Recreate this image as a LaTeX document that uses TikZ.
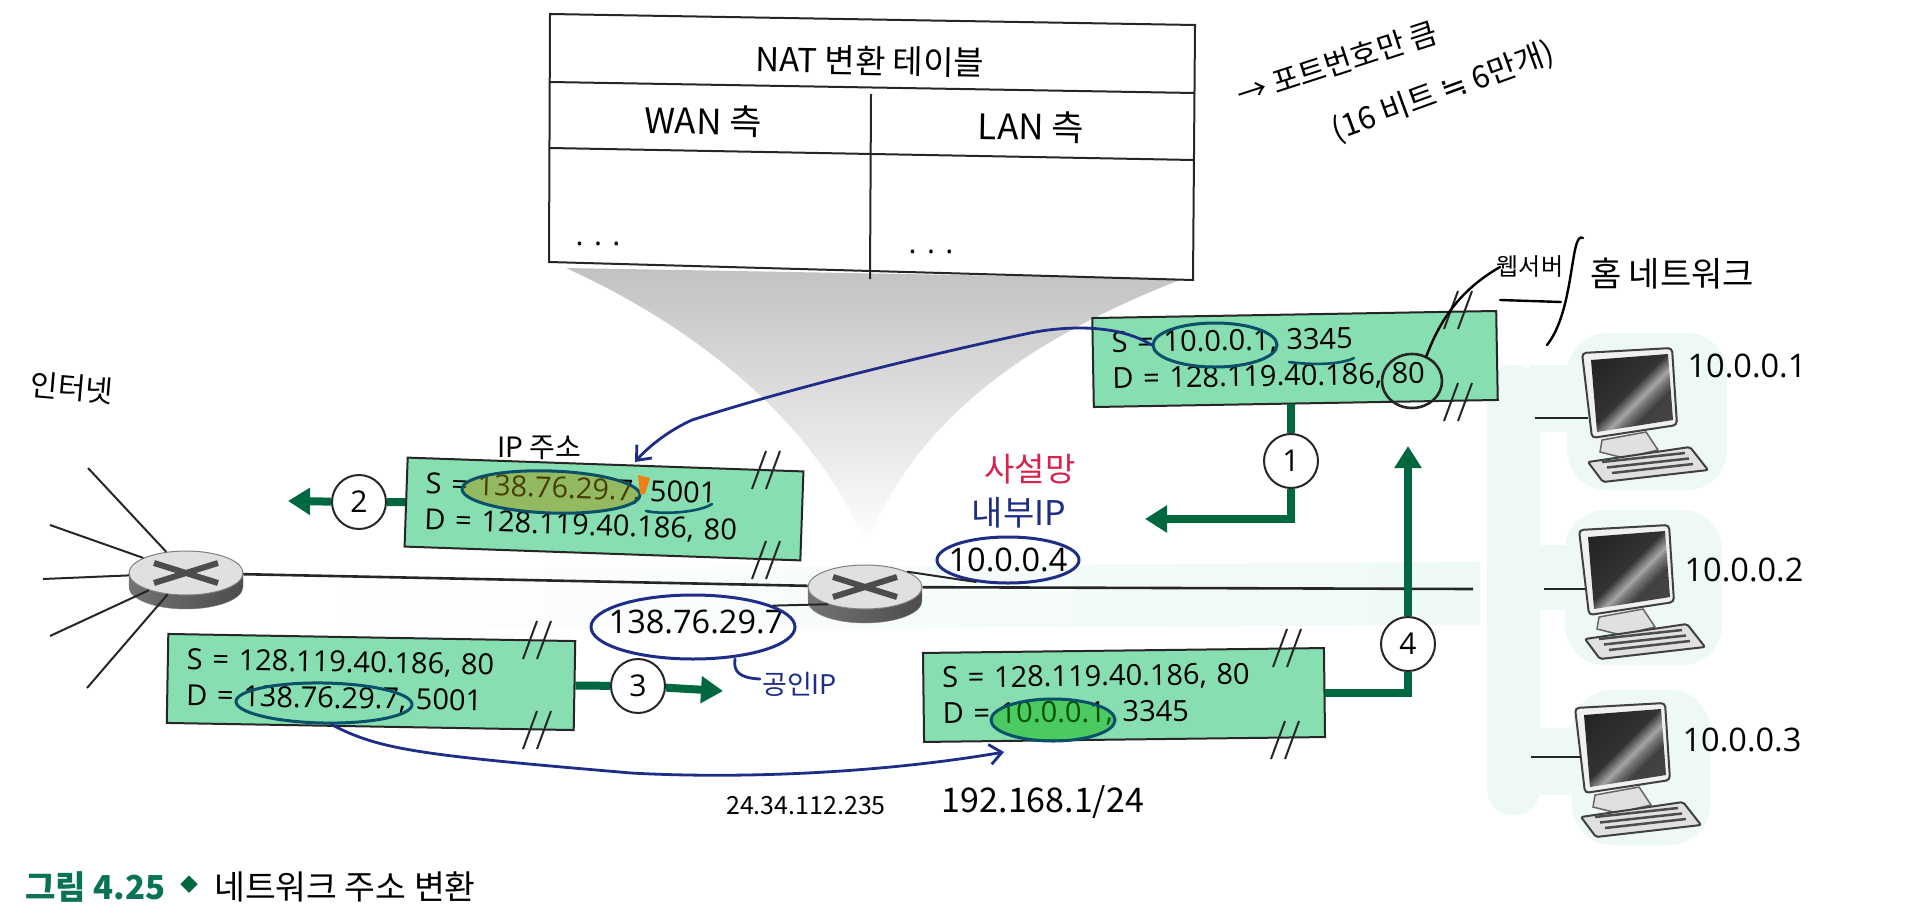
\documentclass[tikz,border=0pt]{standalone}
\usepackage{fontspec}
\setmainfont{Open Sans}
\newfontfamily\kr{Noto Sans CJK KR}
\newfontfamily\symfont{DejaVu Sans}
\usetikzlibrary{arrows.meta,shapes.geometric}
\definecolor{pktgreen}{RGB}{135,222,176}
\definecolor{arrowgreen}{RGB}{0,104,62}
\definecolor{penblue}{RGB}{30,45,135}
\definecolor{penteal}{RGB}{10,80,105}
\definecolor{penred}{RGB}{215,35,75}
\definecolor{capgreen}{RGB}{10,115,85}
\definecolor{paleband}{RGB}{238,249,245}
\newcommand{\fs}[1]{\fontsize{#1}{#1}\selectfont}
\pgfdeclarehorizontalshading{glare}{100bp}{color(0bp)=(black!90); color(48bp)=(black!80); color(56bp)=(black!35); color(60bp)=(black!55); color(66bp)=(black!75); color(100bp)=(black!70)}
\tikzset{
  pktbox/.style={draw=black!85,line width=2pt,fill=pktgreen,inner xsep=19pt,inner ysep=0pt,
    align=left,minimum height=89pt,text width=#1,font=\fontsize{29}{36}\selectfont},
  numcirc/.style={circle,draw=black!85,line width=2pt,fill=white,inner sep=0pt,minimum size=54pt,font=\fs{30}},
  greenline/.style={draw=arrowgreen,line width=8pt},
  greentip/.style={greenline,-{Triangle[length=22pt,width=26pt]}},
  wire/.style={black!85,line width=2.6pt},
  thinwire/.style={black!85,line width=2pt},
  tablehead/.style={font=\kr\fs{#1}},
  addr/.style={inner sep=0pt,font=\fs{32.5}},
  oval/.style={ellipse,draw=penteal,line width=3pt,inner sep=0pt},
  blueoval/.style={oval,draw=penblue},
  bluepen/.style={penblue,line width=2.8pt,line cap=round},
  blackpen/.style={black,line width=2.4pt,line cap=round},
  hand/.style={inner sep=0pt,font=\kr\fs{#1}},
  routertop/.style={ellipse,draw=black!50,line width=1pt,fill=black!12,inner sep=0pt,minimum width=114pt,minimum height=44pt},
  pics/computer/.style={code={
    \filldraw[draw=black!60,fill=black!12,line width=1.5pt] (16,100) -- (18,88) -- (62,80) -- (74,98) -- (40,106) -- cycle;
    \filldraw[draw=black!75,fill=black!6,line width=2pt,rounded corners=4pt] (-2,1) -- (88,-4) -- (93,73) -- (8,86) -- cycle;
    \shade[shading=glare,shading angle=-45] (7,8) -- (84,2) -- (89,68) -- (13,80) -- cycle;
    \filldraw[draw=black!75,fill=black!12,line width=2pt,rounded corners=2pt] (4,110) -- (106,95) -- (124,118) -- (19,130) -- cycle;
    \foreach \k in {0,1,2}
      \draw[black!70,line width=2.5pt] (18+5*\k,110+5.5*\k) -- (101+4*\k,101+5.5*\k);
    \coordinate (-port) at (4,66);
  }}
}
\newcommand{\router}[3]{
  \shade[left color=black!55,middle color=black!8,right color=black!70,draw=black!50]
    (#2-57,#3) -- (#2-57,#3+14) arc (180:0:57 and 22) -- (#2+57,#3) -- cycle;
  \node[routertop] (#1) at (#2,#3) {};
  \draw[black!70,line width=6pt] (#2-32,#3+10) -- (#2+32,#3-10);
  \draw[black!70,line width=6pt] (#2-32,#3-10) -- (#2+32,#3+10);
}
\begin{document}
\begin{tikzpicture}[x=1pt,y=-1pt]
\useasboundingbox (0,0) rectangle (1921,910);
\fill[white] (0,0) rectangle (1921,910);

\shade[left color=white,right color=paleband] (240,570) -- (1480,562) -- (1480,625) -- (240,630) -- cycle;
\fill[paleband,rounded corners=25pt] (1487,365) rectangle (1540,815);
\fill[paleband,rounded corners=40pt] (1567,333) rectangle (1727,490);
\fill[paleband,rounded corners=40pt] (1565,510) rectangle (1722,665);
\fill[paleband,rounded corners=40pt] (1572,690) rectangle (1710,845);
\fill[paleband] (1530,365) rectangle (1575,432);
\fill[paleband] (1530,545) rectangle (1575,610);
\fill[paleband] (1530,728) rectangle (1580,795);

\shade[top color=black!24,bottom color=white]
  (566,268) .. controls (680,320) and (810,410) .. (866,545)
  .. controls (920,410) and (1040,335) .. (1182,279) -- cycle;

\filldraw[fill=white,draw=black!85,line width=2pt] (550,14) -- (1195,25) -- (1193,280) -- (549,262) -- cycle;
\draw[thinwire] (550,82) -- (1195,93);
\draw[thinwire] (550,148) -- (1194,160);
\draw[thinwire] (871,94) -- (870,279);
\node[tablehead=33,rotate=-1] (natTitle) at (870,61) {NAT 변환 테이블};
\node[tablehead=35,rotate=-1] (wanSide) at (703,121) {WAN 측};
\node[tablehead=35,rotate=-1] (lanSide) at (1031,127) {LAN 측};
\node[font=\fs{30}] (wanDots) at (598,244) {. . .};
\node[font=\fs{30}] (lanDots) at (931,252) {. . .};

\router{routerL}{186}{573}
\router{routerR}{865}{587}

\coordinate (inetA) at (88,468);
\coordinate (inetB) at (50,525);
\coordinate (inetC) at (43,579);
\coordinate (inetD) at (50,636);
\coordinate (inetE) at (87,688);
\foreach \n in {inetA,inetB,inetC,inetD,inetE}
  \draw[thinwire] (\n) -- (routerL);
\coordinate (lanEnd) at (1473,589);
\draw[wire] (routerL) -- (routerR);
\draw[wire] (routerR) -- (lanEnd);

\node[pktbox=366pt,rotate=1] (pktA) at (1295,359) {S = 10.0.0.1, 3345\\D = 128.119.40.186, 80};
\node[pktbox=358pt,rotate=-2] (pktB) at (604,509) {S = 138.76.29.7, 5001\\D = 128.119.40.186, 80};
\node[pktbox=369pt,rotate=-1] (pktC) at (371,682) {S = 128.119.40.186, 80\\D = 138.76.29.7, 5001};
\node[pktbox=363pt,rotate=0.7] (pktD) at (1124,695) {S = 128.119.40.186, 80\\D = 10.0.0.1, 3345};

\foreach \sx/\sy in {1458/310,1458/402,766/470,766/560,537/640,537/730,1287/648,1285/740}{
  \draw[thinwire] (\sx-14,\sy+19) -- (\sx,\sy-19);
  \draw[thinwire] (\sx,\sy+19) -- (\sx+14,\sy-19);
}

\node[numcirc] (numA) at (1291,461) {1};
\node[numcirc] (numB) at (359,502) {2};
\node[numcirc] (numC) at (638,686) {3};
\node[numcirc] (numD) at (1408,644) {4};
\coordinate (tipA) at (1145,519);
\coordinate (tipB) at (288,501);
\coordinate (tipC) at (723,691);
\coordinate (tipD) at (1408,446);
\draw[greenline] (pktA.south -| numA) -- (numA);
\draw[greentip] (numA) |- (tipA);
\draw[greenline] (pktB.west) -- (numB);
\draw[greentip] (numB) -- (tipB);
\draw[greenline] (pktC.east) -- (numC);
\draw[greentip] (numC) -- (tipC);
\draw[greenline] (pktD.east) -| (numD);
\draw[greentip] (numD) -- (tipD);

\pic (pcA) at (1584,352) {computer};
\pic (pcB) at (1581,529) {computer};
\pic (pcC) at (1577,707) {computer};
\coordinate (lanA) at (1535,418);
\coordinate (lanB) at (1544,589);
\coordinate (lanC) at (1531,757);
\draw[thinwire] (lanA) -- (lanA -| pcA-port);
\draw[thinwire] (lanB) -- (lanB -| pcB-port);
\draw[thinwire] (lanC) -- (lanC -| pcC-port);
\node[addr] (addrA) at (1747,366) {10.0.0.1};
\node[addr] (addrB) at (1744,570) {10.0.0.2};
\node[addr] (addrC) at (1742,740) {10.0.0.3};

\node[addr] (pubAddr) at (696,622) {138.76.29.7};
\node[addr] (privAddr) at (1008,560) {10.0.0.4};

\node[blueoval,minimum width=204pt,minimum height=64pt] (ovalPub) at (693,627) {};
\node[blueoval,minimum width=142pt,minimum height=46pt] (ovalPriv) at (1008,560) {};
\draw[thinwire] (routerR.205) -- (ovalPub.15);
\draw[thinwire] (routerR.20) -- (ovalPriv.215);
\node[oval,minimum width=124pt,minimum height=44pt] (ovalA) at (1215,345) {};
\node[oval,draw=black!85,minimum width=60pt,minimum height=54pt,line width=2.6pt] (ovalPort) at (1412,381) {};
\node[oval,fill=olive!80!orange,fill opacity=.45,minimum width=178pt,minimum height=42pt,rotate=-2] (ovalB) at (551,492) {};
\node[oval,minimum width=176pt,minimum height=40pt,rotate=-1] (ovalC) at (324,703) {};
\node[oval,fill=green!70!black,fill opacity=.45,minimum width=124pt,minimum height=42pt] (ovalD) at (1053,720) {};
\fill[orange!70!brown] (638,475) -- (650,478) -- (645,494) -- (640,494) -- cycle;

\draw[penteal,line width=2.6pt,line cap=round] (1289,362) .. controls (1310,365) and (1340,365) .. (1354,358);
\draw[penteal,line width=2.6pt,line cap=round] (646,511) .. controls (665,515) and (700,512) .. (712,504);

\coordinate (tipBlueA) at (635,462);
\coordinate (tipBlueB) at (1004,752);
\draw[bluepen,-{Straight Barb[length=12pt,width=20pt]}] (ovalA.west) .. controls (1120,325) and (1070,325) .. (1030,333)
  .. controls (950,350) and (800,385) .. (692,420)
  .. controls (670,430) and (650,445) .. (tipBlueA);
\draw[bluepen,-{Straight Barb[length=12pt,width=20pt]}] (ovalC.-70) .. controls (380,750) and (420,755) .. (631,773)
  .. controls (760,780) and (900,770) .. (tipBlueB);

\draw[bluepen] (735,659) .. controls (733,672) and (740,678) .. (760,679);
\coordinate (strokeTop) at (1500,267);
\draw[blackpen] (ovalPort.60) .. controls (1440,320) and (1460,290) .. (strokeTop);
\draw[blackpen] (1583,238) .. controls (1570,230) and (1575,310) .. (1547,345);
\draw[blackpen] (1500,300) -- (1561,302);

\node[hand=30,rotate=18] (noteA) at (1337,63) {→ 포트번호만 큼};
\node[hand=31,rotate=20] (noteB) at (1443,92) {(16 비트 {\symfont ≒} 6만개)};
\node[hand=24] (noteWeb) at (1530,267) {웹서버};
\node[hand=34] (noteHome) at (1672,274) {홈 네트워크};
\node[hand=30,rotate=-5] (noteNet) at (72,388) {인터넷};
\node[hand=28] (noteIp) at (539,448) {IP 주소};
\node[hand=33,text=penred] (notePriv) at (1030,469) {사설망};
\node[hand=34,text=penblue] (noteInner) at (1019,513) {내부IP};
\node[hand=27,text=penblue,anchor=west] (notePub) at (762,684) {공인IP};
\node[hand=25] (noteWan) at (806,806) {24.34.112.235};
\node[hand=34] (noteLan) at (1043,802) {192.168.1/24};

\node[hand=33,text=capgreen,anchor=west] (capNum) at (25,887) {\bfseries 그림 4.25};
\node[hand=18,text=arrowgreen] (capMark) at (189,885) {◆};
\node[hand=33.5,anchor=west] (capText) at (214,887) {네트워크 주소 변환};
\end{tikzpicture}
\end{document}
